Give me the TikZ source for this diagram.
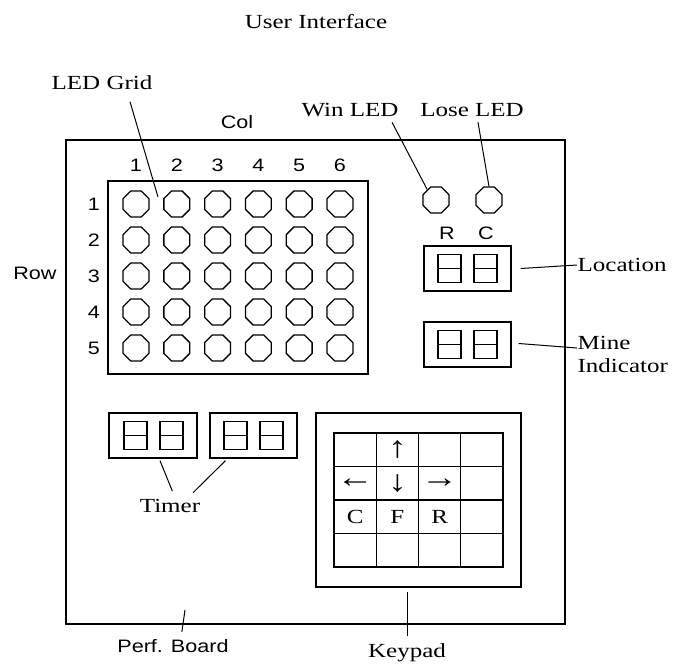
\documentclass[tikz,border=0pt]{standalone}
\usepackage{fontspec}
\usepackage{tikz}
\usetikzlibrary{shapes.geometric}
\newfontfamily\uiserif[FakeStretch=1.25]{Liberation Serif}
\newfontfamily\uisans[FakeStretch=1.2]{Liberation Sans}
\newcommand\serlbl{\uiserif\fontsize{20}{23}\selectfont}
\newcommand\sanlbl{\uisans\fontsize{18}{21}\selectfont}
\newcommand\arr[1]{{\fontsize{30}{30}\selectfont #1}}

\begin{document}
\begin{tikzpicture}[x=1pt, y=-1pt, line width=1.3pt, every node/.style={inner sep=1pt},
  t/.style={font=\serlbl},
  f/.style={font=\sanlbl},
  led/.style={draw, regular polygon, regular polygon sides=8, minimum size=28pt, inner sep=0pt},
  seg/.style={draw, minimum width=23pt, minimum height=28pt, inner sep=0pt,
    path picture={\draw (path picture bounding box.west) -- (path picture bounding box.east);}},
  disp/.style={draw, minimum width=87pt, minimum height=45pt, inner sep=0pt},
  key/.style={draw, minimum width=42.25pt, minimum height=33.5pt, inner sep=0pt, font=\serlbl}]
\useasboundingbox (0,0) rectangle (673,667);
\node[t] (title) at (316,22) {User Interface};
\node[draw, minimum width=499pt, minimum height=484pt] (board) at (315.5,382) {};
\node[draw, minimum width=260pt, minimum height=193pt] (grid) at (238,277.5) {};
\foreach \r in {1,...,5} {
  \node[f] (row\r) at (94,{204+36*(\r-1)}) {\r};
  \foreach \c in {1,...,6}
    \node[led] (l\r\c) at ({136+40.8*(\c-1)},{204+36*(\r-1)}) {};
}
\foreach \c in {1,...,6} \node[f] (col\c) at ({136+40.8*(\c-1)},165) {\c};
\node[f] (collbl) at (237,122) {Col};
\node[f] (rowlbl) at (35,273) {Row};
\node[t] (ledlbl) at (102,83) {LED Grid};
\coordinate (gridtip) at (158,197);
\draw[line width=1pt] ([xshift=28pt,yshift=-10pt]ledlbl.south) -- (gridtip);
\node[led] (win) at (436,200) {};
\node[led] (lose) at (489,200) {};
\node[t] (winlbl) at (350,110) {Win LED};
\node[t] (loselbl) at (472,110) {Lose LED};
\draw[line width=1pt] ([xshift=-8pt,yshift=-4pt]winlbl.south east) -- (win.130);
\draw[line width=1pt] ([xshift=6pt,yshift=-4pt]loselbl.south) -- (lose.north);
\node[f] (rlbl) at (447,233) {R};
\node[f] (clbl) at (486,233) {C};
\node[disp] (loc) at (467.5,268.5) {};
\node[seg] (loc1) at (449.5,268.5) {}; \node[seg] (loc2) at (485.5,268.5) {};
\node[disp] (mine) at (467.5,344.5) {};
\node[seg] (mine1) at (449.5,344.5) {}; \node[seg] (mine2) at (485.5,344.5) {};
\node[t, anchor=west, inner sep=0pt] (loclbl) at (577,265) {Location};
\node[t, anchor=north west, align=left, inner sep=0pt] (minelbl) at (577,336) {Mine\\Indicator};
\coordinate (minetip) at (577,348);
\draw[line width=1pt] ([xshift=9pt]loc.east) -- (loclbl.west);
\draw[line width=1pt] ([xshift=7pt,yshift=1pt]mine.east) -- (minetip);
\node[disp, minimum width=88pt] (t1) at (153,435.5) {};
\node[seg] (t11) at (135.5,435.5) {}; \node[seg] (t12) at (171.5,435.5) {};
\node[disp] (t2) at (253.5,435.5) {};
\node[seg] (t21) at (235.5,435.5) {}; \node[seg] (t22) at (271.5,435.5) {};
\node[t] (timer) at (170,506) {Timer};
\draw[line width=1pt, shorten >=7pt] ([xshift=7pt,yshift=-2pt]t1.south) -- ([xshift=5pt]timer.north);
\draw[line width=1pt, shorten >=7pt] ([xshift=-28pt,yshift=-2pt]t2.south) -- ([xshift=18pt]timer.north);
\node[draw, minimum width=205pt, minimum height=174pt] (kp) at (418.5,500) {};
\foreach \r/\c/\s in {1/1/,1/2/\arr{↑},1/3/,1/4/,2/1/\arr{←},2/2/\arr{↓},2/3/\arr{→},2/4/,3/1/C,3/2/F,3/3/R,3/4/,4/1/,4/2/,4/3/,4/4/}
  \node[key] (k\r\c) at ({334+42.25*(\c-0.5)},{433+33.5*(\r-0.5)}) {\s};
\node[t] (kplbl) at (407,653) {Keypad};
\draw[line width=1pt, shorten >=6pt] ([xshift=-11.5pt,yshift=-4pt]kp.south) -- (kplbl.north);
\node[f] (perf) at (173,646) {Perf. Board};
\coordinate (perftip) at (185,610);
\draw[line width=1pt, shorten >=6pt] (perftip) -- ([xshift=8pt]perf.north);
\end{tikzpicture}
\end{document}
